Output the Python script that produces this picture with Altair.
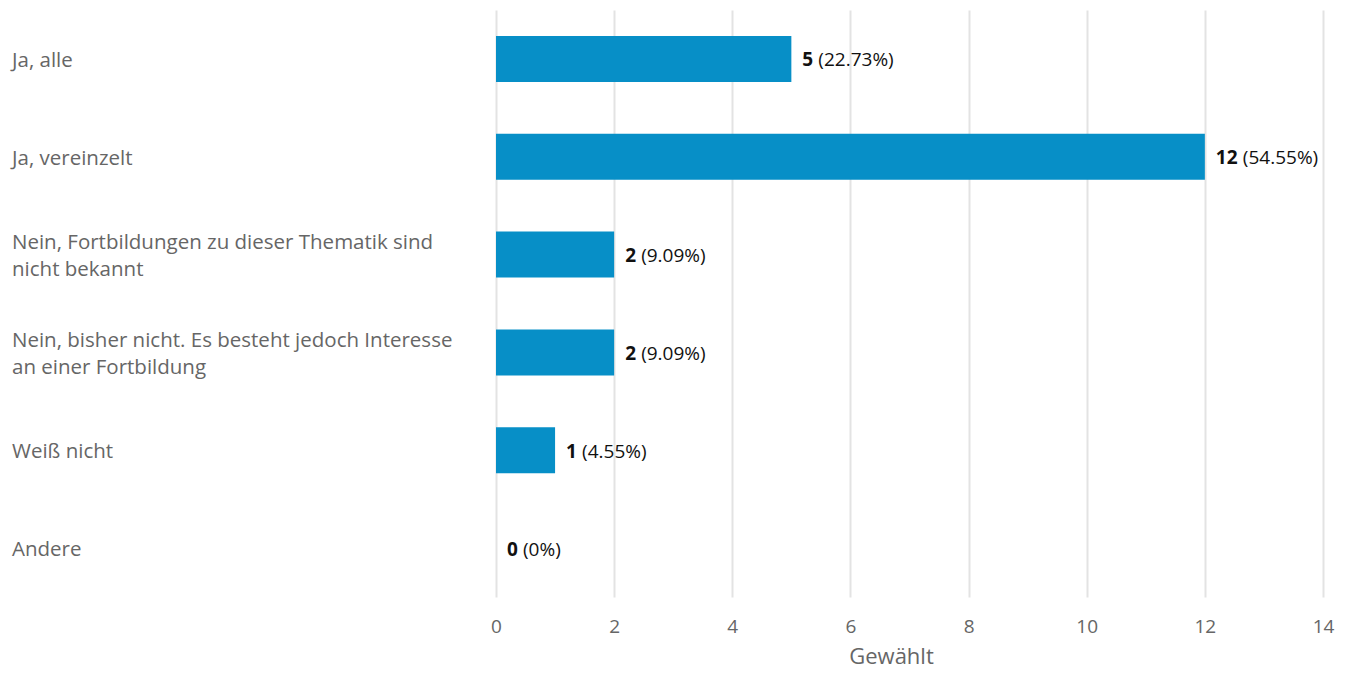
import altair as alt
import pandas as pd

categories = [
    "Ja, alle",
    "Ja, vereinzelt",
    "Nein, Fortbildungen zu dieser Thematik sind\nnicht bekannt",
    "Nein, bisher nicht. Es besteht jedoch Interesse\nan einer Fortbildung",
    "Weiß nicht",
    "Andere",
]
counts = [5, 12, 2, 2, 1, 0]
percents = ["(22.73%)", "(54.55%)", "(9.09%)", "(9.09%)", "(4.55%)", "(0%)"]
x_ticks = [0, 2, 4, 6, 8, 10, 12, 14]

df = pd.DataFrame({"cat": categories, "count": counts, "pct": percents})
df["digits"] = df["count"].astype(str).str.len()
df["twoline"] = df["cat"].str.contains("\n")

FONT = "Open Sans"
W, H = 827, 587

y_enc = alt.Y(
    "cat:N",
    sort=categories,
    scale=alt.Scale(paddingInner=0.53, paddingOuter=0.265),
    axis=None,
)
x_scale = alt.Scale(domain=[0, 14], nice=False)

base = alt.Chart(df)

bars = base.mark_bar(color="#078FC7").encode(
    x=alt.X(
        "count:Q",
        scale=x_scale,
        axis=alt.Axis(
            values=x_ticks,
            format="d",
            title="Gewählt",
            grid=True,
            gridColor="#e3e3e3",
            gridWidth=2,
            domain=False,
            ticks=False,
            labelFlush=False,
            labelFont=FONT,
            labelFontSize=19,
            labelColor="#666666",
            labelPadding=20,
            titleFont=FONT,
            titleFontSize=22,
            titleFontWeight="normal",
            titleColor="#666666",
            titleX=395,
            titleY=66,
            titleAlign="center",
            titleBaseline="alphabetic",
        ),
    ),
    y=y_enc,
)

num_text = base.mark_text(
    align="left", baseline="middle", dx=11, dy=1.5, font=FONT, fontSize=19,
    fontWeight="bold", color="#111111",
).encode(x=alt.X("count:Q", scale=x_scale), y=y_enc, text="count:Q")

pct1 = base.transform_filter("datum.digits == 1").mark_text(
    align="left", baseline="middle", dx=27, dy=1.5, font=FONT, fontSize=19,
    color="#111111",
).encode(x=alt.X("count:Q", scale=x_scale), y=y_enc, text="pct:N")

pct2 = base.transform_filter("datum.digits == 2").mark_text(
    align="left", baseline="middle", dx=38, dy=1.5, font=FONT, fontSize=19,
    color="#111111",
).encode(x=alt.X("count:Q", scale=x_scale), y=y_enc, text="pct:N")

cat_one = base.transform_filter("!datum.twoline").mark_text(
    align="left", baseline="middle", dy=2, font=FONT, fontSize=20.5,
    color="#666666",
).encode(x=alt.value(12 - 496), y=y_enc, text="cat:N")

cat_two = base.transform_filter("datum.twoline").mark_text(
    align="left", baseline="middle", dy=2 - 13.5, font=FONT, fontSize=20.5,
    color="#666666", lineBreak="\n", lineHeight=27,
).encode(x=alt.value(12 - 496), y=y_enc, text="cat:N")

chart = (
    alt.layer(bars, num_text, pct1, pct2, cat_one, cat_two)
    .properties(
        width=W,
        height=H,
        autosize=alt.AutoSizeParams(type="none"),
        padding={"left": 488, "top": 2, "right": 15, "bottom": 68},
    )
    .configure_view(stroke=None)
)

chart.save("out.html", embed_options={"renderer": "svg", "actions": False})
